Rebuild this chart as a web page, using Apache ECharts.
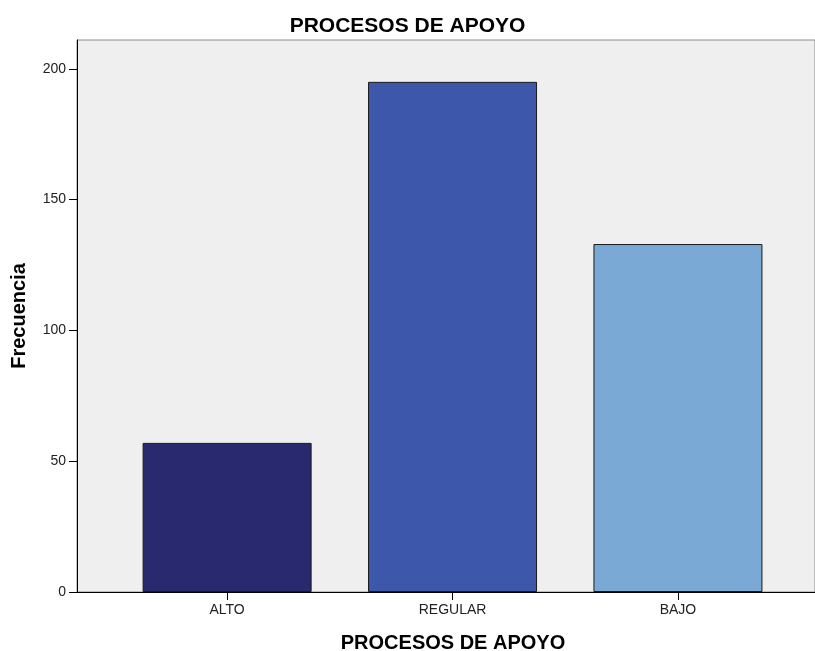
<!DOCTYPE html>
<html>
<head>
<meta charset="utf-8">
<script src="https://cdn.jsdelivr.net/npm/echarts@6/dist/echarts.min.js"></script>
<style>
  html, body { margin: 0; padding: 0; background: #ffffff; }
  #chart { width: 815px; height: 651px; }
</style>
</head>
<body>
<div id="chart"></div>
<script>
// Frequency of each level of "Procesos de apoyo"
const categories = ['ALTO', 'REGULAR', 'BAJO'];
const frecuencias = [57, 195, 133];
const barColors = ['#29296F', '#3D58AA', '#7BA9D5'];
const yTicks = [0, 50, 100, 150, 200];

const FONT = 'Arial, "Liberation Sans", Helvetica, sans-serif';

const barData = categories.map((c, i) => ({
  value: [i, frecuencias[i]],
  itemStyle: { color: barColors[i] }
}));

const chart = echarts.init(document.getElementById('chart'), null, { renderer: 'canvas' });

chart.setOption({
  animation: false,
  backgroundColor: '#ffffff',
  title: {
    text: 'PROCESOS DE APOYO',
    left: 'center',
    top: 11,
    textStyle: { fontFamily: FONT, fontSize: 21, fontWeight: 'bold', color: '#000000' }
  },
  grid: {
    left: 77,
    right: 0,
    top: 40,
    bottom: 59,
    containLabel: false,
    outerBoundsMode: 'none',
    show: true,
    backgroundColor: '#EFEFEF',
    borderColor: '#8C8C8C',
    borderWidth: 1
  },
  xAxis: {
    type: 'value',
    min: -0.666,
    max: 2.608,
    name: 'PROCESOS DE APOYO',
    nameLocation: 'middle',
    nameGap: 41,
    nameTextStyle: { fontFamily: FONT, fontSize: 20, fontWeight: 'bold', color: '#000000', padding: [0, 0, 0, 14] },
    splitLine: { show: false },
    axisLine: { show: true, onZero: false, lineStyle: { color: '#000000', width: 1 } },
    axisTick: { show: true, length: 8, customValues: categories.map((c, i) => i), lineStyle: { color: '#000000' } },
    axisLabel: {
      customValues: categories.map((c, i) => i),
      formatter: v => categories[Math.round(v)],
      fontFamily: FONT, fontSize: 14, color: '#222222', margin: 11
    }
  },
  yAxis: {
    type: 'value',
    min: 0,
    max: 211,
    name: 'Frecuencia',
    nameLocation: 'middle',
    nameRotate: 90,
    nameGap: 48,
    nameTextStyle: { fontFamily: FONT, fontSize: 20, fontWeight: 'bold', color: '#000000' },
    splitLine: { show: false },
    axisLine: { show: true, onZero: false, lineStyle: { color: '#000000', width: 1 } },
    axisTick: { show: true, length: 8, customValues: yTicks, lineStyle: { color: '#000000' } },
    axisLabel: {
      customValues: yTicks,
      fontFamily: FONT, fontSize: 14, color: '#222222', margin: 11
    }
  },
  series: [{
    type: 'bar',
    data: barData,
    barWidth: 169,
    itemStyle: { borderColor: '#1a1a1a', borderWidth: 1 }
  }]
});
</script>
</body>
</html>
